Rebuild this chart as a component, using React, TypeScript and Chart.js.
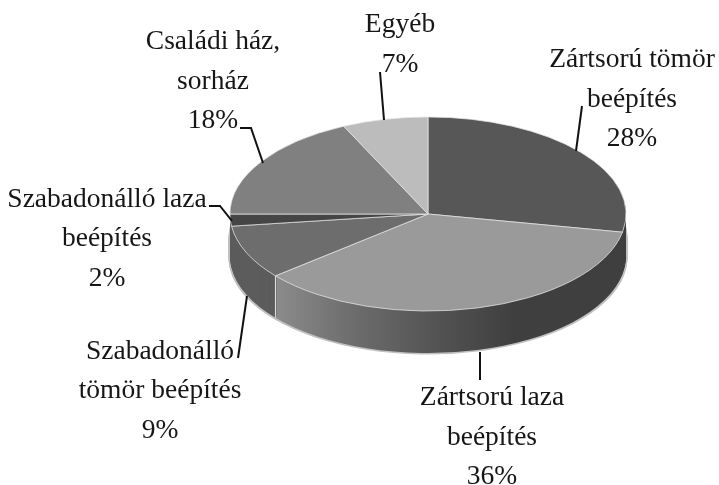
import React, { useEffect, useRef } from "react";
import { Chart, registerables } from "chart.js";

Chart.register(...registerables);

const categories = ["Zártsorú tömör beépítés", "Zártsorú laza beépítés", "Szabadonálló tömör beépítés", "Szabadonálló laza beépítés", "Családi ház, sorház", "Egyéb"];
const values = [28, 36, 9, 2, 18, 7];
const topColors = ["#575757", "#9a9a9a", "#6d6d6d", "#454545", "#808080", "#bcbcbc"];
const labelLines = [
  ["Zártsorú tömör", "beépítés"],
  ["Zártsorú laza", "beépítés"],
  ["Szabadonálló", "tömör beépítés"],
  ["Szabadonálló laza", "beépítés"],
  ["Családi ház,", "sorház"],
  ["Egyéb"],
];
const labelCenters = [632, 492, 160, 107, 213, 400];
const labelBaselines = [
  [67, 107, 146],
  [405, 445, 484],
  [359, 398, 438],
  [207, 246, 286],
  [49, 89, 128],
  [32, 72],
];
const leaders = [
  [[582, 106], [576, 151]],
  [[480, 352], [480, 380]],
  [[247, 296], [238, 358]],
  [[209, 206], [220, 206], [232, 221]],
  [[240, 128], [251, 128], [263, 163]],
  [[380, 72], [384, 120]],
];
const SQUASH = 0.49;
const DEPTH = 42;
const FONT = '27.5px "Liberation Serif"';

const pie3d = {
  id: "pie3d",
  beforeDatasetsDraw(chart: any) {
    const ctx = chart.ctx;
    const arcs = chart.getDatasetMeta(0).data;
    const { x: cx, y: cy, outerRadius: R } = arcs[0];
    const front = ctx.createLinearGradient(cx - R, 0, cx + R, 0);
    front.addColorStop(0.1, "#8e8e8e");
    front.addColorStop(0.3, "#6e6e6e");
    front.addColorStop(0.55, "#505050");
    front.addColorStop(0.72, "#3f3f3f");
    front.addColorStop(1, "#3f3f3f");
    const sideFill = (i: number) => (i === 1 ? front : i === 0 ? "#3f3f3f" : "#5c5c5c");
    const drawWall = (d: number, grow: number, fill: (i: number) => any) => {
      ctx.save();
      ctx.translate(cx, cy + d);
      ctx.scale(grow, SQUASH);
      ctx.translate(-cx, -cy);
      arcs.forEach((arc: any, i: number) => {
        const saved = arc.options;
        arc.options = { ...saved, borderWidth: 0, backgroundColor: fill(i) };
        arc.draw(ctx);
        arc.options = saved;
      });
      ctx.restore();
    };
    for (let d = DEPTH + 1.5; d > 24; d -= 1) {
      drawWall(d, 1 + 1.5 / R, () => "#c0c0c0");
    }
    for (let d = DEPTH; d > 0; d -= 1) {
      drawWall(d, 1, sideFill);
    }
    // seam between the two visible side walls
    const seam = arcs[1].endAngle;
    const sx = cx + R * Math.cos(seam);
    const sy = cy + SQUASH * R * Math.sin(seam);
    ctx.save();
    ctx.strokeStyle = "#e4e4e4";
    ctx.lineWidth = 1;
    ctx.beginPath();
    ctx.moveTo(sx, sy);
    ctx.lineTo(sx, sy + DEPTH);
    ctx.stroke();
    ctx.restore();

    ctx.save();
    ctx.translate(cx, cy);
    ctx.scale(1, SQUASH);
    ctx.translate(-cx, -cy);
  },
  afterDatasetsDraw(chart: any) {
    const ctx = chart.ctx;
    ctx.restore();
    ctx.save();
    ctx.strokeStyle = "#111";
    ctx.lineWidth = 2;
    leaders.forEach((pts) => {
      ctx.beginPath();
      pts.forEach(([x, y], i) => (i ? ctx.lineTo(x, y) : ctx.moveTo(x, y)));
      ctx.stroke();
    });
    ctx.fillStyle = "#161616";
    ctx.font = FONT;
    ctx.textAlign = "center";
    ctx.textBaseline = "alphabetic";
    labelLines.forEach((lines, i) => {
      const all = [...lines, `${values[i]}%`];
      all.forEach((t, j) => ctx.fillText(t, labelCenters[i], labelBaselines[i][j]));
    });
    ctx.restore();
  },
};

export default function App() {
  const ref = useRef<HTMLCanvasElement>(null);
  useEffect(() => {
    const chart = new Chart(ref.current as HTMLCanvasElement, {
      type: "pie",
      data: {
        labels: categories,
        datasets: [{
          data: values,
          backgroundColor: topColors,
          borderColor: "#e8e8e8",
          borderWidth: 1,
        }],
      },
      options: {
        responsive: false,
        animation: false,
        events: [],
        layout: { padding: { left: 229.5, right: 92.5, top: 15.5, bottom: 72.5 } },
        plugins: { legend: { display: false }, tooltip: { enabled: false } },
      },
      plugins: [pie3d],
    } as any);
    return () => chart.destroy();
  }, []);
  return (
    <div style={{ position: "absolute", left: 0, top: 0, width: 719, height: 485, background: "#fff" }}>
      <canvas ref={ref} width={719} height={485} style={{ display: "block" }} />
    </div>
  );
}
